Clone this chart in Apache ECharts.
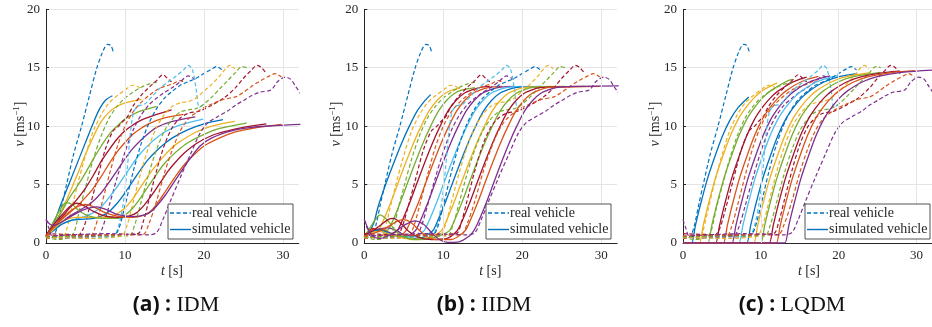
<!DOCTYPE html>
<html><head><meta charset="utf-8">
<script src="https://cdn.jsdelivr.net/npm/echarts@6/dist/echarts.min.js"></script>
<style>html,body{margin:0;padding:0;background:#fff}#c{width:932px;height:327px}</style>
</head><body><div id="c"></div><script>
// ---------- data ----------
const vehicleColors = ['#0072BD','#EDB120','#77AC30','#A2142F','#D95319','#7E2F8E','#4DBEEE','#0072BD','#EDB120','#77AC30','#A2142F','#D95319','#7E2F8E'];
const panelTitles = ['(a)', '(b)', '(c)'];
const modelNames = ['IDM', 'IIDM', 'LQDM'];
const xTicks = [0, 10, 20, 30];
const yTicks = [0, 5, 10, 15, 20];

// real vehicles (dashed) [t, v]
const REAL_1 = [[0,0.6],[0.5,0.4],[1.0,0.6],[1.5,1.6],[2.0,3.2],[2.6,5.0],[3.5,7.6],[4.5,10.0],[5.5,12.6],[6.4,14.9],[7.2,16.4],[7.8,17.0],[8.2,16.9],[8.5,16.4]];
const REAL_2 = [[0,0.4],[1,0.6],[2,0.4],[2.5,0.9],[3.2,2.8],[4,5.0],[5,7.5],[6,9.6],[7,11.0],[8,12.0],[9,12.6],[10,13.1],[11,13.5],[11.6,13.4],[12.2,13.1]];
const REAL_3 = [[0,0.5],[1.5,0.3],[3,0.5],[3.6,1.0],[4.3,3.0],[5.1,5.0],[6,7.2],[7,9.2],[8,10.7],[9,11.7],[10,12.4],[11,12.9],[12,13.3],[13,13.6],[14.2,13.8]];
const REAL_4 = [[0,0.6],[2,0.4],[4,0.6],[4.7,1.2],[5.5,3.0],[6.5,5.5],[7.5,8.0],[8.5,9.6],[9.2,10.0],[9.7,10.4],[10.3,10.8],[11,11.7],[12,12.6],[13,13.3],[14,13.9],[14.8,14.4],[15.5,14.0],[15.9,13.8]];
const REAL_5 = [[0,0.4],[3,0.6],[5.5,0.5],[6.2,1.3],[7,3.2],[8,5.8],[9,8.2],[10,10.0],[11,11.2],[12,12.0],[13,12.6],[14,13.1],[15,13.4],[16,13.6],[17,13.9],[17.4,13.8]];
const REAL_6 = [[0,0.6],[3,0.5],[6.5,0.6],[7.2,1.4],[8,3.2],[9,5.6],[10,7.8],[11,9.6],[12,10.9],[13,11.8],[14,12.4],[15,12.9],[16,13.3],[17,13.8],[18,14.3],[18.9,14.0]];
const REAL_7 = [[0,0.5],[4,0.4],[8.5,0.6],[9.2,1.5],[9.8,3.5],[10.3,6.5],[10.7,9.5],[11.1,11.2],[11.6,11.7],[12.5,11.9],[13.5,12.6],[14.5,13.3],[15.5,13.8],[16.5,14.3],[17.4,14.8],[18,15.2],[18.5,14.9],[19,13.2],[19.4,11.6],[19.9,11.8]];
const REAL_8 = [[0,0.5],[4,0.6],[8.5,0.6],[9.2,1.2],[10,3.2],[11,6.0],[12,8.4],[13,10.2],[14,11.5],[15,12.4],[16,13.0],[17,13.5],[18,13.8],[19,14.1],[20,14.5],[21,14.9],[21.6,15.1],[22.3,14.8]];
const REAL_9 = [[0,0.5],[5,0.4],[9.5,0.6],[10.2,1.4],[11,3.4],[12,6.0],[13,8.2],[14,9.9],[15,11.0],[16,11.7],[17,12.0],[18,12.1],[19,12.4],[20,13.0],[21,13.6],[22,14.3],[23.3,15.2],[23.9,14.9]];
const REAL_10 = [[0,0.5],[5,0.6],[10.5,0.6],[11.2,1.5],[12,3.4],[13,5.9],[14,8.0],[15,9.6],[16,10.6],[17,11.2],[18,11.4],[19,11.5],[20,11.9],[21,12.5],[22,13.2],[23,13.9],[24,14.6],[24.8,15.1],[25.4,15.0]];
const REAL_11 = [[0,0.8],[5,0.7],[11.6,0.8],[12.3,1.8],[13,3.6],[14,6.2],[15,8.4],[16,9.9],[17,10.7],[18,11.1],[19.5,11.3],[21,11.8],[22.5,12.4],[24,13.3],[25,14.1],[26,14.8],[26.7,15.2],[27.3,15.0],[27.9,14.5]];
const REAL_12 = [[0,0.6],[6,0.7],[12.2,0.7],[13,1.6],[14,3.6],[15,6.0],[16,8.0],[17,9.6],[18,10.6],[19.5,11.4],[21,11.9],[22.5,12.3],[24,12.5],[25,12.9],[26,13.4],[27.2,13.9],[28.3,14.3],[29,14.5],[29.8,14.2]];
const REAL_13 = [[0,2.0],[0.4,1.2],[0.8,0.6],[3,0.7],[8,0.8],[13,0.7],[14,0.9],[14.8,2.0],[15.7,3.5],[17,5.6],[18.3,7.6],[19.5,9.4],[20.5,10.3],[21.7,10.8],[23,11.3],[24,11.8],[25,12.2],[26,12.6],[27,12.9],[28.5,13.1],[29.3,13.8],[30.3,14.2],[31,14.0],[31.6,13.4],[32.2,12.8]];

// IDM simulated (panel a)
const IDM_1 = [[0,0.6],[0.5,0.9],[2,3.5],[4,6.9],[6,10.3],[6.8,11.5],[7.5,12.2],[8.4,12.6]];
const IDM_2 = [[0,0.5],[1,1.6],[2,2.8],[3,4.3],[4,5.9],[5,7.6],[6,9.1],[7,10.4],[8,11.2],[9,11.7],[10,12.0],[12.1,12.3]];
const IDM_3 = [[0,0.5],[1,1.6],[2,2.7],[3,3.9],[4,4.9],[5,6.0],[6,7.2],[7,8.3],[8,9.3],[9,10.0],[10,10.6],[11,11.0],[12,11.3],[14,11.7]];
const IDM_4 = [[0,0.6],[1,1.4],[2,2.2],[3,3.0],[4,3.8],[5,4.7],[6,5.8],[7,7.0],[8,8.0],[9,8.9],[10,9.6],[11,10.1],[12,10.5],[14,11.0],[15.9,11.4]];
const IDM_5 = [[0,0.5],[1,1.3],[2,2.0],[3,2.6],[4,3.2],[5,3.9],[6,4.7],[7,5.7],[8,6.8],[9,7.8],[10,8.6],[11,9.3],[12,9.8],[13,10.2],[15,10.7],[17.4,11.0]];
const IDM_6 = [[0,0.6],[1,1.2],[2,1.8],[3,2.3],[4,2.7],[5,3.1],[6,3.6],[7,4.3],[8,5.2],[9,6.2],[10,7.2],[11,8.1],[12,8.8],[13,9.4],[14,9.9],[16,10.4],[18.9,10.8]];
const IDM_7 = [[0,0.5],[1,1.1],[2,1.6],[3,1.9],[4,2.1],[5,2.3],[6,2.6],[7,3.1],[8,3.9],[9,4.8],[10,5.8],[11,6.8],[12,7.7],[13,8.4],[14,9.0],[15,9.5],[17,10.1],[19.9,10.6]];
const IDM_8 = [[0,0.6],[1,1.1],[2,1.6],[3,1.9],[4,2.0],[6,2.1],[7,2.3],[8,2.7],[9,3.4],[10,4.3],[11,5.3],[12,6.3],[13,7.2],[14,7.9],[15,8.5],[16,9.0],[18,9.7],[20,10.2],[22.4,10.55]];
const IDM_9 = [[0,0.5],[1,1.2],[2,1.8],[3,2.1],[4,2.2],[6,2.2],[8,2.2],[9,2.5],[10,3.0],[11,3.8],[12,4.8],[13,5.8],[14,6.7],[15,7.5],[16,8.2],[17,8.7],[19,9.5],[21,10.0],[23.9,10.4]];
const IDM_10 = [[0,0.5],[1,1.9],[2,3.1],[2.6,3.45],[3.3,3.3],[4.3,2.7],[5.5,2.3],[7,2.1],[9,2.1],[10,2.4],[11,3.0],[12,3.9],[13,4.9],[14,5.9],[15,6.8],[16,7.5],[17,8.1],[18,8.6],[20,9.3],[22,9.8],[25.4,10.25]];
const IDM_11 = [[0,0.7],[1,1.6],[2,2.4],[3,3.1],[3.9,3.4],[4.8,3.2],[6,2.7],[7.5,2.3],[9,2.2],[10.5,2.3],[11.5,2.6],[12.5,3.3],[13.5,4.2],[14.5,5.2],[15.5,6.2],[16.5,7.0],[17.5,7.7],[19,8.5],[21,9.2],[23,9.6],[25,9.9],[27.9,10.2]];
const IDM_12 = [[0,0.6],[1,1.4],[2,2.1],[3,2.7],[4,3.1],[5,3.3],[6,3.1],[7.5,2.6],[9,2.3],[11,2.2],[12.5,2.4],[13.5,2.9],[14.5,3.8],[15.5,4.8],[16.5,5.8],[17.5,6.7],[18.5,7.4],[20,8.3],[22,9.0],[24,9.5],[26,9.8],[29.8,10.15]];
const IDM_13 = [[0,2.0],[0.5,1.6],[1,1.5],[2,1.8],[3,2.2],[4,2.6],[5,2.9],[6.4,3.1],[7.5,2.9],[9,2.45],[11,2.25],[12.5,2.4],[13.5,2.8],[15,4.0],[16,5.0],[17,6.0],[18,7.0],[19.5,8.3],[21,9.0],[23.5,9.6],[26,9.9],[29,10.05],[32.2,10.15]];

// IIDM simulated (panel b)
const IIDM_1 = [[0,0.6],[0.5,0.8],[1.2,1.7],[1.7,3.0],[2.7,5.0],[3.7,6.8],[4.7,8.5],[5.7,10.0],[6.7,11.3],[7.7,12.2],[8.4,12.7]];
const IIDM_2 = [[0,0.5],[1,0.9],[1.7,1.0],[2.2,1.6],[3.2,3.2],[4.2,5.0],[5.2,6.8],[6.2,8.5],[7.2,10.0],[8.2,11.3],[9.2,12.2],[10.2,12.8],[11.2,13.1],[12.1,13.25]];
const IIDM_3 = [[0,0.5],[1,1.0],[2,1.2],[2.9,1.1],[3.4,1.6],[4.4,3.2],[5.4,5.0],[6.4,6.8],[7.4,8.5],[8.4,10.0],[9.4,11.3],[10.4,12.2],[11.4,12.8],[12.4,13.1],[14,13.3]];
const IIDM_4 = [[0,0.6],[1.1,1.25],[2.2,1.0],[3.3,0.8],[4.1,1.0],[4.6,1.6],[5.6,3.2],[6.6,5.0],[7.6,6.8],[8.6,8.5],[9.6,10.0],[10.6,11.3],[11.6,12.2],[12.6,12.8],[13.6,13.1],[14.6,13.3],[15.9,13.4]];
const IIDM_5 = [[0,0.5],[1.3,1.2],[2.5,1.1],[3.5,0.8],[4.5,0.6],[5.2,1.0],[5.7,1.6],[6.7,3.2],[7.7,5.0],[8.7,6.8],[9.7,8.5],[10.7,10.0],[11.7,11.3],[12.7,12.2],[13.7,12.8],[14.7,13.1],[15.7,13.3],[17.4,13.4]];
const IIDM_6 = [[0,0.6],[1.5,1.1],[3,1.3],[4.3,1.0],[5.3,0.6],[6.4,1.0],[6.9,1.6],[7.9,3.2],[8.9,5.0],[9.9,6.8],[10.9,8.5],[11.9,10.0],[12.9,11.3],[13.9,12.2],[14.9,12.8],[15.9,13.1],[16.9,13.3],[18.9,13.4]];
const IIDM_7 = [[0,0.5],[1,0.9],[2,1.0],[3,0.8],[4.5,0.6],[6,0.5],[7.5,1.0],[8,1.6],[9,3.2],[10,5.0],[11,6.8],[12,8.5],[13,10.0],[14,11.3],[15,12.2],[16,12.8],[17,13.1],[18,13.3],[19.9,13.4]];
const IIDM_8 = [[0,0.6],[1,1.0],[2,1.1],[3,0.9],[4,0.6],[5.5,0.4],[7,0.4],[8.6,1.0],[9.1,1.6],[10.1,3.2],[11.1,5.0],[12.1,6.8],[13.1,8.5],[14.1,10.0],[15.1,11.3],[16.1,12.2],[17.1,12.8],[18.1,13.1],[19.1,13.3],[22.4,13.4]];
const IIDM_9 = [[0,0.5],[1,0.9],[2,1.0],[3,0.8],[4.5,0.5],[6,0.3],[8,0.4],[9.7,1.0],[10.2,1.6],[11.2,3.2],[12.2,5.0],[13.2,6.8],[14.2,8.5],[15.2,10.0],[16.2,11.3],[17.2,12.2],[18.2,12.8],[19.2,13.1],[20.2,13.3],[23.9,13.4]];
const IIDM_10 = [[0,0.5],[1,1.6],[2,2.4],[3,1.9],[4,1.0],[5,0.5],[6.5,0.3],[8.5,0.4],[10.7,1.0],[11.2,1.6],[12.2,3.2],[13.2,5.0],[14.2,6.8],[15.2,8.5],[16.2,10.0],[17.2,11.3],[18.2,12.2],[19.2,12.8],[20.2,13.1],[21.2,13.3],[25.4,13.4]];
const IIDM_11 = [[0,0.7],[1,1.0],[2,1.5],[3,2.0],[3.7,2.1],[4.6,1.7],[5.6,1.0],[6.8,0.5],[8.5,0.3],[10.5,0.4],[11.7,1.0],[12.2,1.6],[13.2,3.2],[14.2,5.0],[15.2,6.8],[16.2,8.5],[17.2,10.0],[18.2,11.3],[19.2,12.2],[20.2,12.8],[21.2,13.1],[22.2,13.3],[27.9,13.4]];
const IIDM_12 = [[0,0.6],[1.5,0.9],[3,1.4],[4,1.8],[4.9,2.0],[5.8,1.8],[6.8,1.2],[7.8,0.6],[9,0.3],[11,0.3],[12.7,1.0],[13.2,1.6],[14.2,3.2],[15.2,5.0],[16.2,6.8],[17.2,8.5],[18.2,10.0],[19.2,11.3],[20.2,12.2],[21.2,12.8],[22.2,13.1],[23.2,13.3],[29.8,13.4]];
const IIDM_13 = [[0,2.0],[0.5,1.2],[1,0.6],[2,0.4],[3,0.6],[4,1.0],[5,1.5],[6.4,1.9],[7.5,1.6],[8.5,0.9],[9.5,0.3],[10.5,0.05],[12,0.1],[13.3,0.6],[13.8,1.0],[14.3,1.6],[15.3,3.2],[16.3,5.0],[17.3,6.8],[18.3,8.5],[19.3,10.0],[20.3,11.3],[21.3,12.2],[22.3,12.8],[23.3,13.1],[24.3,13.3],[26.5,13.4],[32.2,13.45]];

// LQDM simulated (panel c)
const LQDM_1 = [[0,0],[0.8,0],[1.1,0],[1.6,1.5],[2.1,2.9],[3.1,5.4],[4.1,7.4],[5.1,9.2],[6.1,10.6],[7.1,11.6],[8.45,12.5]];
const LQDM_2 = [[0,0],[1.8,0],[2.1,0],[2.6,1.5],[3.1,2.9],[4.1,5.4],[5.1,7.4],[6.1,9.2],[7.1,10.6],[8.1,11.6],[9.1,12.4],[10.1,13.0],[12.1,13.7]];
const LQDM_3 = [[0,0],[2.9,0],[3.2,0],[3.7,1.5],[4.2,2.9],[5.2,5.4],[6.2,7.4],[7.2,9.2],[8.2,10.6],[9.2,11.6],[10.2,12.4],[11.2,13.0],[13.2,13.8],[14.0,14.0]];
const LQDM_4 = [[0,0],[3.9,0],[4.2,0],[4.7,1.5],[5.2,2.9],[6.2,5.4],[7.2,7.4],[8.2,9.2],[9.2,10.6],[10.2,11.6],[11.2,12.4],[12.2,13.0],[14.2,13.8],[15.9,14.2]];
const LQDM_5 = [[0,0],[4.9,0],[5.2,0],[5.7,1.5],[6.2,2.9],[7.2,5.4],[8.2,7.4],[9.2,9.2],[10.2,10.6],[11.2,11.6],[12.2,12.4],[13.2,13.0],[15.2,13.8],[17.4,14.25]];
const LQDM_6 = [[0,0],[6.0,0],[6.3,0],[6.8,1.5],[7.3,2.9],[8.3,5.4],[9.3,7.4],[10.3,9.2],[11.3,10.6],[12.3,11.6],[13.3,12.4],[14.3,13.0],[16.3,13.8],[18.9,14.3]];
const LQDM_7 = [[0,0],[6.9,0],[7.2,0],[7.7,1.5],[8.2,2.9],[9.2,5.4],[10.2,7.4],[11.2,9.2],[12.2,10.6],[13.2,11.6],[14.2,12.4],[15.2,13.0],[17.2,13.8],[19.9,14.35]];
const LQDM_8 = [[0,0],[7.9,0],[8.2,0],[8.7,1.5],[9.2,2.9],[10.2,5.4],[11.2,7.4],[12.2,9.2],[13.2,10.6],[14.2,11.6],[15.2,12.4],[16.2,13.0],[18.2,13.8],[20.2,14.25],[22.4,14.5]];
const LQDM_9 = [[0,0],[8.8,0],[9.1,0],[9.6,1.5],[10.1,2.9],[11.1,5.4],[12.1,7.4],[13.1,9.2],[14.1,10.6],[15.1,11.6],[16.1,12.4],[17.1,13.0],[19.1,13.8],[21.1,14.25],[23.9,14.55]];
const LQDM_10 = [[0,0],[9.7,0],[10.0,0],[10.5,1.5],[11,2.9],[12,5.4],[13,7.4],[14,9.2],[15,10.6],[16,11.6],[17,12.4],[18,13.0],[20,13.8],[22,14.25],[25.4,14.6]];
const LQDM_11 = [[0,0],[10.8,0],[11.1,0],[11.6,1.5],[12.1,2.9],[13.1,5.4],[14.1,7.4],[15.1,9.2],[16.1,10.6],[17.1,11.6],[18.1,12.4],[19.1,13.0],[21.1,13.8],[23.1,14.25],[26.1,14.6],[27.9,14.7]];
const LQDM_12 = [[0,0],[11.7,0],[12.0,0],[12.5,1.5],[13,2.9],[14,5.4],[15,7.4],[16,9.2],[17,10.6],[18,11.6],[19,12.4],[20,13.0],[22,13.8],[24,14.25],[27,14.6],[29.8,14.75]];
const LQDM_13 = [[0,0],[12.8,0],[13.1,0],[13.6,1.5],[14.1,2.9],[15.1,5.4],[16.1,7.4],[17.1,9.2],[18.1,10.6],[19.1,11.6],[20.1,12.4],[21.1,13.0],[23.1,13.8],[25.1,14.25],[28.1,14.6],[32.2,14.8]];

const realData = [REAL_1,REAL_2,REAL_3,REAL_4,REAL_5,REAL_6,REAL_7,REAL_8,REAL_9,REAL_10,REAL_11,REAL_12,REAL_13];
const idmData = [IDM_1,IDM_2,IDM_3,IDM_4,IDM_5,IDM_6,IDM_7,IDM_8,IDM_9,IDM_10,IDM_11,IDM_12,IDM_13];
const iidmData = [IIDM_1,IIDM_2,IIDM_3,IIDM_4,IIDM_5,IIDM_6,IIDM_7,IIDM_8,IIDM_9,IIDM_10,IIDM_11,IIDM_12,IIDM_13];
const lqdmData = [LQDM_1,LQDM_2,LQDM_3,LQDM_4,LQDM_5,LQDM_6,LQDM_7,LQDM_8,LQDM_9,LQDM_10,LQDM_11,LQDM_12,LQDM_13];
const simData = [idmData, iidmData, lqdmData];

// ---------- layout ----------
const SERIF = 'Liberation Serif';
const AX = '#262626';
const panels = [
  {left: 46, width: 252.8, legendX: 168, labelX: 20, titleX: 176},
  {left: 364.3, width: 252.8, legendX: 486, labelX: 336, titleX: 484},
  {left: 683, width: 251.8, legendX: 805, labelX: 655, titleX: 792}
];
const TOP = 9.3, HEIGHT = 233.7;

const grids = [], xAxes = [], yAxes = [], series = [], graphics = [];
panels.forEach((p, i) => {
  grids.push({left: p.left, top: TOP, width: p.width, height: HEIGHT, containLabel: false});
  xAxes.push({
    type: 'value', gridIndex: i, min: 0, max: 32, interval: 10,
    axisLine: {show: true, onZero: false, lineStyle: {color: AX, width: 1}},
    axisTick: {show: true, inside: true, length: 3, customValues: xTicks, lineStyle: {color: AX}},
    axisLabel: {color: AX, fontFamily: SERIF, fontSize: 13, margin: 6, customValues: xTicks},
    splitLine: {show: false}
  });
  yAxes.push({
    type: 'value', gridIndex: i, min: 0, max: 20, interval: 5,
    axisLine: {show: true, onZero: false, lineStyle: {color: AX, width: 1}},
    axisTick: {show: true, inside: true, length: 3, lineStyle: {color: AX}},
    axisLabel: {color: AX, fontFamily: SERIF, fontSize: 13, margin: 6},
    splitLine: {show: true, lineStyle: {color: '#e4e4e4', width: 1}}
  });
  // vertical grid lines via markLine on a helper series
  series.push({
    type: 'line', xAxisIndex: i, yAxisIndex: i, data: [], silent: true, z: 1,
    markLine: {silent: true, symbol: 'none', label: {show: false}, animation: false,
      lineStyle: {color: '#e4e4e4', width: 1, type: 'solid'},
      data: xTicks.filter(v => v > 0).map(v => ({xAxis: v}))}
  });
  for (let k = 0; k < realData.length; k++) {
    series.push({
      type: 'line', xAxisIndex: i, yAxisIndex: i, data: realData[k], showSymbol: false, symbol: 'none',
      smooth: 0.3, silent: true, z: 2, animation: false,
      lineStyle: {color: vehicleColors[k], width: 1.2, type: [4, 2.5]}
    });
    series.push({
      type: 'line', xAxisIndex: i, yAxisIndex: i, data: simData[i][k], showSymbol: false, symbol: 'none',
      smooth: 0.3, silent: true, z: 2, animation: false,
      lineStyle: {color: vehicleColors[k], width: 1.3, type: 'solid'}
    });
  }
  // legend box
  const lx = p.legendX, ly = 204;
  graphics.push({type: 'rect', shape: {x: lx, y: ly, width: 125, height: 35}, style: {fill: '#fff', stroke: AX, lineWidth: 0.8}, z: 100});
  graphics.push({type: 'line', shape: {x1: lx + 2, y1: ly + 9, x2: lx + 23, y2: ly + 9}, style: {stroke: vehicleColors[0], lineWidth: 1.3, lineDash: [4, 2.5]}, z: 101});
  graphics.push({type: 'line', shape: {x1: lx + 2, y1: ly + 25.5, x2: lx + 23, y2: ly + 25.5}, style: {stroke: vehicleColors[0], lineWidth: 1.4}, z: 101});
  graphics.push({type: 'text', x: lx + 24, y: ly + 9, style: {text: 'real vehicle', fill: AX, font: '14px "' + SERIF + '"', verticalAlign: 'middle', align: 'left'}, z: 101});
  graphics.push({type: 'text', x: lx + 24, y: ly + 25.5, style: {text: 'simulated vehicle', fill: AX, font: '14px "' + SERIF + '"', verticalAlign: 'middle', align: 'left'}, z: 101});
  // y-axis name
  graphics.push({type: 'text', x: p.labelX, y: 124, rotation: Math.PI / 2, z: 101,
    style: {text: '{i|v} {n|[ms}{s|−1}{n|]}', align: 'center', verticalAlign: 'middle', fill: AX,
      rich: {i: {fontFamily: SERIF, fontStyle: 'italic', fontSize: 14, lineHeight: 16, fill: AX},
             n: {fontFamily: SERIF, fontSize: 14, lineHeight: 16, fill: AX},
             s: {fontFamily: SERIF, fontSize: 9, lineHeight: 9, verticalAlign: 'top', fill: AX}}}});
  // x-axis name
  graphics.push({type: 'text', x: p.left + 126, y: 271, z: 101,
    style: {text: '{i|t} {n|[s]}', align: 'center', verticalAlign: 'middle', fill: AX,
      rich: {i: {fontFamily: SERIF, fontStyle: 'italic', fontSize: 14, fill: AX},
             n: {fontFamily: SERIF, fontSize: 14, fill: AX}}}});
  // subtitle
  graphics.push({type: 'text', x: p.titleX, y: 305, z: 101,
    style: {text: '{b|' + panelTitles[i] + ' : }{r|' + modelNames[i] + '}', align: 'center', verticalAlign: 'middle',
      rich: {b: {fontFamily: 'Open Sans', fontWeight: 'bold', fontSize: 21, fill: '#111'},
             r: {fontFamily: SERIF, fontSize: 22, fill: '#111'}}}});
});

const chart = echarts.init(document.getElementById('c'), null, {renderer: 'canvas'});
chart.setOption({
  animation: false,
  backgroundColor: '#fff',
  grid: grids, xAxis: xAxes, yAxis: yAxes, series: series, graphic: graphics
});
</script></body></html>
